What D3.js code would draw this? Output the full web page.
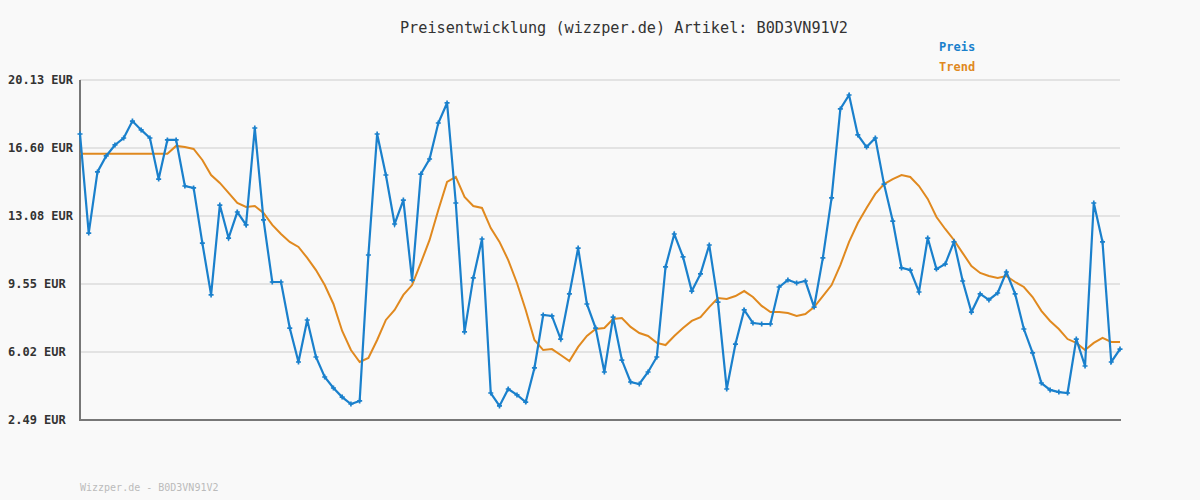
<!DOCTYPE html>
<html><head><meta charset="utf-8">
<script src="https://cdn.jsdelivr.net/npm/d3@7"></script>
<style>body{margin:0;background:#f9f9f9}</style></head>
<body><svg id="c" width="1200" height="500"></svg>
<script>
const title = "Preisentwicklung (wizzper.de) Artikel: B0D3VN91V2";
const footer = "Wizzper.de - B0D3VN91V2";
const yTicks = [2.49, 6.02, 9.55, 13.08, 16.60, 20.13];
const preis = [17.33,12.19,15.36,16.19,16.76,17.12,18.00,17.54,17.12,14.99,17.02,17.02,14.63,14.53,11.67,8.98,13.64,11.93,13.28,12.61,17.64,12.87,9.65,9.65,7.26,5.50,7.68,5.76,4.72,4.15,3.68,3.32,
3.48,11.05,17.33,15.20,12.66,13.90,9.75,15.25,16.03,17.90,18.94,13.75,7.06,9.86,11.88,3.89,3.22,4.10,3.79,3.42,5.19,7.94,7.89,6.69,9.03,11.41,8.51,7.26,4.98,7.83,
5.60,4.46,4.36,4.98,5.76,10.43,12.14,10.95,9.18,10.07,11.57,8.61,4.10,6.43,8.20,7.52,7.47,7.47,9.39,9.75,9.60,9.70,8.35,10.90,14.01,18.63,19.35,17.28,16.65,17.12,
14.73,12.81,10.38,10.27,9.13,11.93,10.32,10.58,11.73,9.70,8.09,9.03,8.72,9.08,10.17,9.03,7.21,5.97,4.41,4.05,3.94,3.89,6.69,5.29,13.75,11.73,5.50,6.17];
const trend = [16.30,16.30,16.30,16.30,16.30,16.30,16.30,16.30,16.30,16.30,16.30,16.71,16.65,16.55,15.98,15.20,14.79,14.27,13.75,13.54,13.59,13.23,12.61,12.14,11.73,11.47,10.90,10.27,9.49,8.51,7.11,6.12,
5.50,5.71,6.64,7.68,8.20,8.98,9.49,10.64,11.83,13.39,14.84,15.10,14.06,13.59,13.49,12.45,11.73,10.79,9.60,8.20,6.64,6.12,6.17,5.86,5.55,6.28,6.85,7.21,7.26,7.73,
7.78,7.32,7.00,6.85,6.49,6.38,6.85,7.26,7.63,7.83,8.35,8.82,8.77,8.92,9.18,8.87,8.41,8.09,8.09,8.04,7.89,7.99,8.35,8.92,9.49,10.53,11.73,12.71,13.49,14.22,
14.73,14.99,15.20,15.10,14.63,13.96,13.02,12.40,11.83,11.15,10.48,10.12,9.96,9.86,9.96,9.65,9.39,8.87,8.15,7.63,7.21,6.69,6.49,6.12,6.49,6.75,6.54,6.54];

const svg = d3.select("#c");
const mono = "'DejaVu Sans Mono', monospace";
svg.append("rect").attr("width",1200).attr("height",500).attr("fill","#f9f9f9");
const x = d3.scaleLinear().domain([0, preis.length-1]).range([80,1120]);
const y = d3.scaleLinear().domain([2.49,20.13]).range([420,80]);

svg.append("g").selectAll("line").data(yTicks).join("line")
  .attr("x1",80).attr("x2",1120).attr("y1",d=>y(d)).attr("y2",d=>y(d))
  .attr("stroke","#e3e3e3").attr("stroke-width",2);
svg.append("g").selectAll("text").data(yTicks).join("text")
  .attr("x",8).attr("y",d=>y(d)+4).text(d=>d.toFixed(2)+" EUR")
  .attr("font-family",mono).attr("font-size",12).attr("font-weight","bold").attr("fill","#333");
svg.append("line").attr("x1",80).attr("x2",80).attr("y1",80).attr("y2",420).attr("stroke","#777").attr("stroke-width",2);
svg.append("line").attr("x1",79).attr("x2",1121).attr("y1",420).attr("y2",420).attr("stroke","#777").attr("stroke-width",2);

const line = d3.line().x((d,i)=>x(i)).y(d=>y(d));
svg.append("path").attr("d",line(trend)).attr("fill","none").attr("stroke","#e0891f").attr("stroke-width",2);
svg.append("path").attr("d",line(preis)).attr("fill","none").attr("stroke","#1a80cc").attr("stroke-width",2.2);
svg.append("g").selectAll("path").data(preis).join("path")
  .attr("d",d3.symbol(d3.symbolCross,14))
  .attr("transform",(d,i)=>`translate(${x(i)},${y(d)})`).attr("fill","#1a80cc");

svg.append("text").attr("x",624).attr("y",33).attr("text-anchor","middle").text(title)
  .attr("font-family",mono).attr("font-size",15.2).attr("fill","#333");
svg.append("text").attr("x",939).attr("y",51).text("Preis").attr("font-family",mono).attr("font-size",12).attr("font-weight","bold").attr("fill","#1a80cc");
svg.append("text").attr("x",939).attr("y",71).text("Trend").attr("font-family",mono).attr("font-size",12).attr("font-weight","bold").attr("fill","#e0891f");
svg.append("text").attr("x",80).attr("y",491).text(footer).attr("font-family",mono).attr("font-size",10).attr("fill","#bbb");
</script></body></html>
